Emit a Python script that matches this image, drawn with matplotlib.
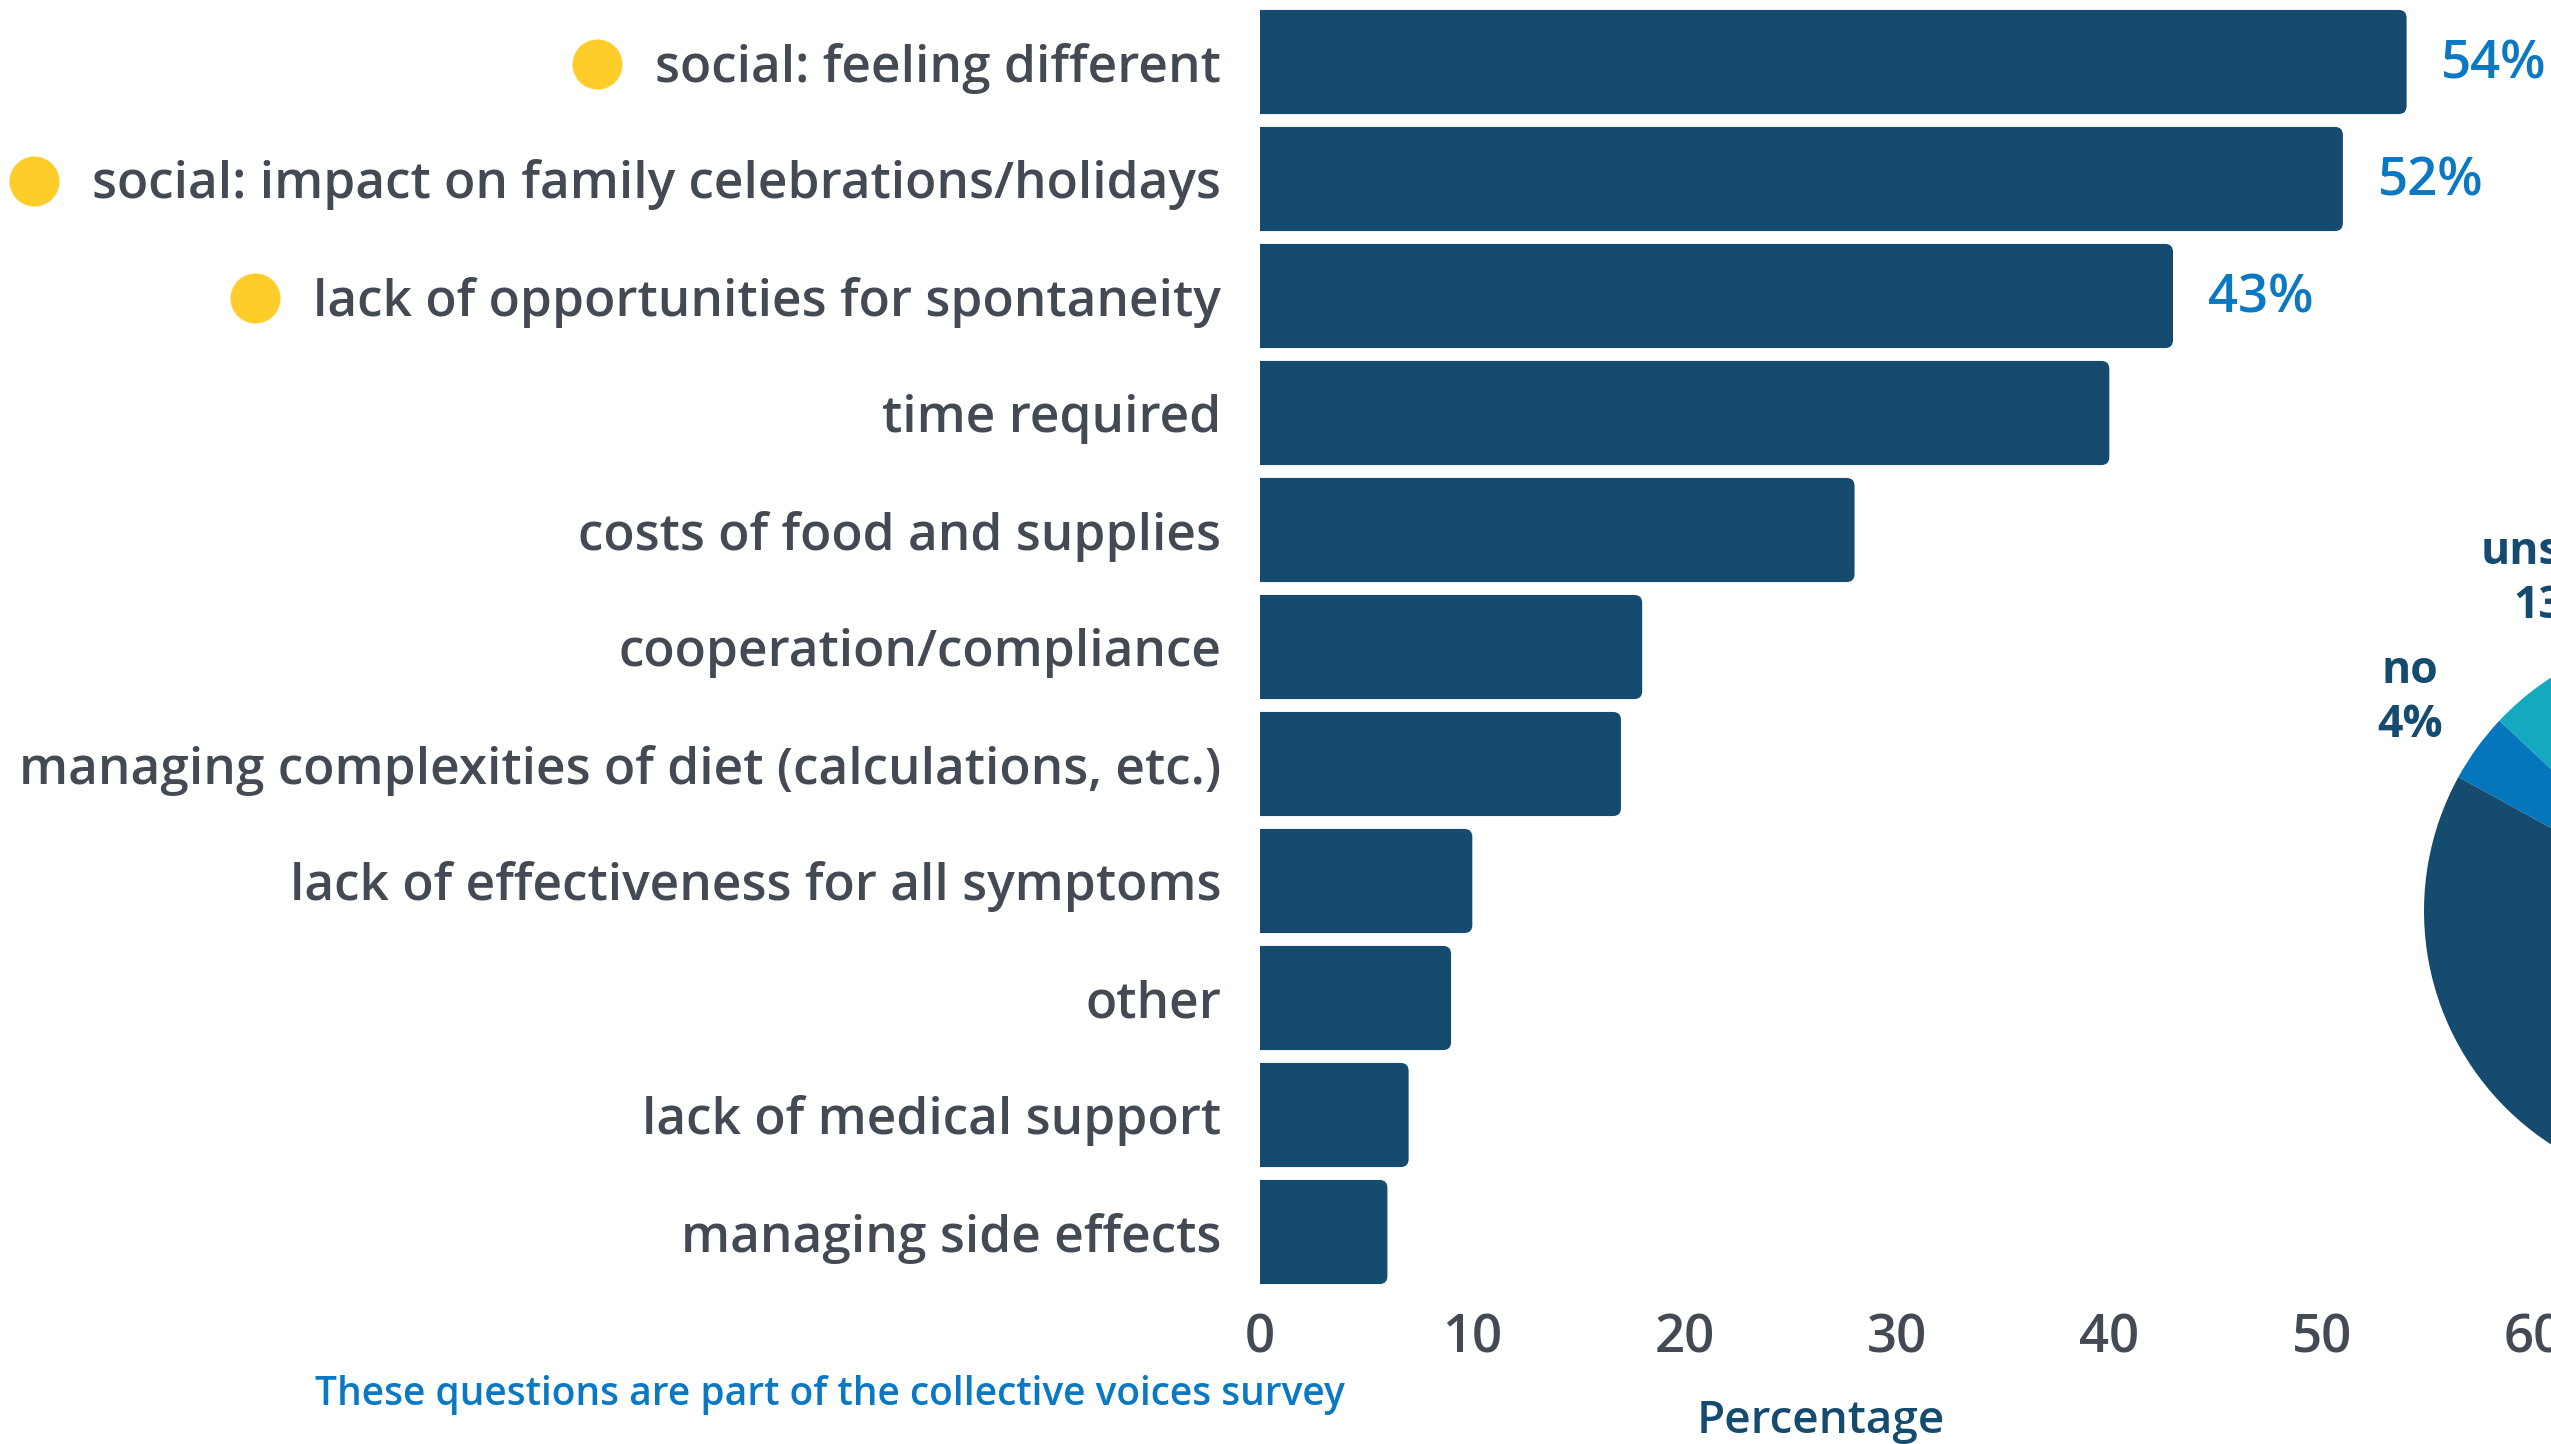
import matplotlib
matplotlib.use("Agg")
import matplotlib.pyplot as plt
from matplotlib.lines import Line2D
from matplotlib.patches import FancyBboxPatch

# ---- data ----
categories = [
    "social: feeling different",
    "social: impact on family celebrations/holidays",
    "lack of opportunities for spontaneity",
    "time required",
    "costs of food and supplies",
    "cooperation/compliance",
    "managing complexities of diet (calculations, etc.)",
    "lack of effectiveness for all symptoms",
    "other",
    "lack of medical support",
    "managing side effects",
]
values = [54, 51, 43, 40, 28, 18, 17, 10, 9, 7, 6]
value_labels = ["54%", "52%", "43%"]          # shown for the top three bars
flagged = [True, True, True, False, False, False, False, False, False, False, False]

pie_labels = ["unsure\n13%", "no\n4%", "yes\n83%"]
pie_values = [13, 4, 83]

x_ticks = [0, 10, 20, 30, 40, 50, 60]
footnote = "These questions are part of the collective voices survey"
x_label = "Percentage"

# ---- style ----
FONT = ["Open Sans", "DejaVu Sans"]
NAVY = "#154b6e"
BLUE = "#0a78c2"
TEAL = "#13a9be"
PIE_BLUE = "#0575bc"
GRAY = "#434a54"
GOLD = "#ffcd2a"

plt.rcParams["font.family"] = FONT

W, H = 2551, 1444
fig = plt.figure(figsize=(W / 100, H / 100), dpi=100)

ax = fig.add_axes([1260 / W, 1 - 1290.5 / H, (2534 - 1260) / W, (1290.5 - 3.5) / H])
ypos = list(range(len(categories)))
bars = ax.barh(ypos, values, height=0.89, color=NAVY)
ax.set_xlim(0, 60)
ax.set_ylim(len(categories) - 0.5, -0.5)

# rounded bar ends (left corners hidden by the axes clip at x=0)
x_px = (2534 - 1260) / 60.0
y_px = (1290.5 - 3.5) / len(categories)
rad = 8 / x_px
for p in bars.patches:
    x0, y0, w, h = p.get_x(), p.get_y(), p.get_width(), p.get_height()
    fb = FancyBboxPatch((x0 - 1, y0), w + 1, h,
                        boxstyle=f"round,pad=0,rounding_size={rad}",
                        mutation_aspect=x_px / y_px,
                        facecolor=NAVY, edgecolor="none")
    ax.add_patch(fb)
    p.set_visible(False)

ax.set_yticks(ypos)
ax.set_yticklabels(categories, fontsize=37, color=GRAY, fontweight="semibold")
ax.set_xticks(x_ticks)
ax.set_xticklabels([str(t) for t in x_ticks], fontsize=38, color=GRAY, fontweight="semibold")
ax.tick_params(axis="y", length=0, pad=28)
ax.tick_params(axis="x", length=0, pad=16)
for s in ax.spines.values():
    s.set_visible(False)

for i, lab in enumerate(value_labels):
    ax.annotate(lab, xy=(values[i], i), xytext=(25, -2), textcoords="offset points",
                ha="left", va="center", fontsize=38, color=BLUE, fontweight="semibold")

# x label, placed like the reference (not centred on the axes)
fig.text(1821 / W, 1 - 1422 / H, x_label, ha="center", va="center",
         fontsize=33, color=NAVY, fontweight="semibold")
fig.text(315 / W, 1 - 1395 / H, footnote, ha="left", va="center",
         fontsize=28, color=BLUE, fontweight="semibold")

# ---- pie (mostly outside the canvas, as in the reference) ----
cx, cy, r = 2702, 911, 278
pax = fig.add_axes([(cx - r) / W, (H - cy - r) / H, 2 * r / W, 2 * r / H])
wedges, texts = pax.pie(pie_values, colors=[TEAL, PIE_BLUE, NAVY], startangle=90,
                        counterclock=True, labels=pie_labels, labeldistance=1.3,
                        radius=1.0,
                        textprops=dict(fontsize=32, color=NAVY, fontweight="bold",
                                       linespacing=1.25))
for t in texts:
    t.set_ha("center")
    t.set_va("center")
pax.set_xlim(-1, 1)
pax.set_ylim(-1, 1)
pax.set_aspect("equal")
pax.axis("off")

# ---- yellow dots before the flagged category labels ----
fig.canvas.draw()
renderer = fig.canvas.get_renderer()
inv = fig.transFigure.inverted()
for i, lab in enumerate(ax.get_yticklabels()):
    if flagged[i]:
        bb = lab.get_window_extent(renderer)
        _, ybar = ax.transData.transform((0, i))
        xf, yf = inv.transform((bb.x0 - 58, ybar - 2))
        fig.add_artist(Line2D([xf], [yf], marker="o", markersize=36, color=GOLD,
                              markeredgewidth=0, linestyle="none",
                              transform=fig.transFigure))

fig.savefig("out.png", dpi=100)
